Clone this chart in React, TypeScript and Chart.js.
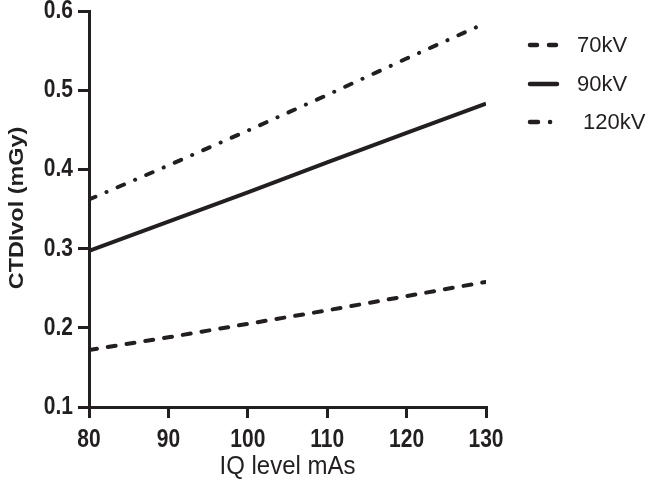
import React, { useEffect, useRef } from "react";
import { Chart, registerables } from "chart.js";

Chart.register(...registerables);

// Tube current–time product (mAs) per image-quality level
const mAs = [80, 90, 100, 110, 120, 130];

// CTDIvol (mGy) for each tube voltage
const ctdi70kV = [0.172, 0.188, 0.205, 0.222, 0.24, 0.258];
const ctdi90kV = [0.297, 0.334, 0.371, 0.409, 0.446, 0.483];
const ctdi120kV = [0.362, 0.405, 0.449, 0.494, 0.54, 0.585];

const seriesLabels = ["70kV", "90kV", "120kV"];
const xTitle = "IQ level mAs";
const yTitle = "CTDIvol (mGy)";

const INK = "#231f20";
const FONT = "'Liberation Sans', Arial, Helvetica, sans-serif";

// Dash patterns (used with round caps, which add ~4px to each dash)
const DASH_70 = [8, 11];
const DASH_90: number[] = [];
const DASH_120 = [7, 12, 0.1, 12];

// Draws a text stretched by (sx, sy) around its anchor point
function stretchedText(
  ctx: CanvasRenderingContext2D,
  text: string,
  x: number,
  y: number,
  font: string,
  align: CanvasTextAlign,
  sx: number,
  sy: number,
  rotate = 0
) {
  ctx.save();
  ctx.translate(x, y);
  if (rotate) ctx.rotate(rotate);
  ctx.scale(sx, sy);
  ctx.font = font;
  ctx.fillStyle = INK;
  ctx.textAlign = align;
  ctx.textBaseline = "middle";
  ctx.fillText(text, 0, 0);
  ctx.restore();
}

// Tick labels and axis titles, placed from the scales' own pixel mapping
const axisText = {
  id: "axisText",
  afterDraw(chart: any) {
    const { ctx } = chart;
    const xs = chart.scales.x;
    const ys = chart.scales.y;
    const tickFont = `bold 21px ${FONT}`;
    xs.ticks.forEach((t: any) => {
      const px = xs.getPixelForValue(t.value);
      stretchedText(ctx, String(t.value), px, 440, tickFont, "center", 1, 1.2);
    });
    ys.ticks.forEach((t: any) => {
      const py = ys.getPixelForValue(t.value);
      stretchedText(ctx, Number(t.value).toFixed(1), 73, py, tickFont, "right", 1, 1.2);
    });
    const midX = (chart.chartArea.left + chart.chartArea.right) / 2;
    stretchedText(ctx, xTitle, midX, 467, `24px ${FONT}`, "center", 1, 1.1);
    stretchedText(ctx, yTitle, 17, 208, `bold 20px ${FONT}`, "center", 1.17, 1, -Math.PI / 2);
  },
};

// Legend drawn on the right, outside the plot area
const sideLegend = {
  id: "sideLegend",
  afterDraw(chart: any) {
    const { ctx } = chart;
    const rows = [
      { label: seriesLabels[0], y: 45, textX: 577, dash: [7, 12], segLen: 27 },
      { label: seriesLabels[1], y: 84, textX: 577, dash: [], segLen: 27 },
      { label: seriesLabels[2], y: 122, textX: 583, dash: [8, 12, 0.1, 100], segLen: 22 },
    ];
    ctx.save();
    rows.forEach((r) => {
      ctx.beginPath();
      ctx.setLineDash(r.dash);
      ctx.lineWidth = 4.5;
      ctx.strokeStyle = INK;
      ctx.lineCap = "round";
      ctx.moveTo(530, r.y);
      ctx.lineTo(530 + r.segLen, r.y);
      ctx.stroke();
      ctx.setLineDash([]);
      ctx.fillStyle = INK;
      ctx.font = `22px ${FONT}`;
      ctx.textBaseline = "middle";
      ctx.textAlign = "left";
      ctx.fillText(r.label, r.textX, r.y + 1);
    });
    ctx.restore();
  },
};

export default function App() {
  const canvasRef = useRef<HTMLCanvasElement | null>(null);

  useEffect(() => {
    if (!canvasRef.current) return;
    const toPoints = (vals: number[]) => mAs.map((x, i) => ({ x, y: vals[i] }));
    const lineStyle = (dash: number[]) => ({
      borderColor: INK,
      backgroundColor: INK,
      borderWidth: 4,
      borderDash: dash,
      borderCapStyle: dash.length ? ("round" as const) : ("butt" as const),
      pointRadius: 0,
      tension: 0,
      fill: false,
    });
    const axisGrid = {
      drawOnChartArea: false,
      drawTicks: true,
      tickLength: 11,
      lineWidth: 3,
      color: INK,
    };

    const chart = new Chart(canvasRef.current, {
      type: "line",
      data: {
        datasets: [
          { label: seriesLabels[0], data: toPoints(ctdi70kV), ...lineStyle(DASH_70) },
          { label: seriesLabels[1], data: toPoints(ctdi90kV), ...lineStyle(DASH_90) },
          { label: seriesLabels[2], data: toPoints(ctdi120kV), ...lineStyle(DASH_120) },
        ],
      },
      options: {
        animation: false,
        responsive: false,
        maintainAspectRatio: false,
        layout: { padding: { top: 11, right: 160, left: 0, bottom: 0 } },
        plugins: {
          legend: { display: false },
          tooltip: { enabled: false },
        },
        scales: {
          x: {
            type: "linear",
            min: 80,
            max: 130,
            ticks: { stepSize: 10, display: false },
            grid: axisGrid,
            border: { display: true, width: 3, color: INK },
            afterFit(scale: any) {
              scale.height = 88;
            },
          },
          y: {
            min: 0.1,
            max: 0.6,
            ticks: { stepSize: 0.1, display: false },
            grid: axisGrid,
            border: { display: true, width: 3, color: INK },
            afterFit(scale: any) {
              scale.width = 89;
            },
          },
        },
      },
      plugins: [axisText, sideLegend],
    });
    return () => chart.destroy();
  }, []);

  return (
    <div style={{ position: "fixed", left: 0, top: 0, width: 646, height: 495, background: "#fff" }}>
      <canvas ref={canvasRef} width={646} height={495} style={{ display: "block" }} />
    </div>
  );
}
